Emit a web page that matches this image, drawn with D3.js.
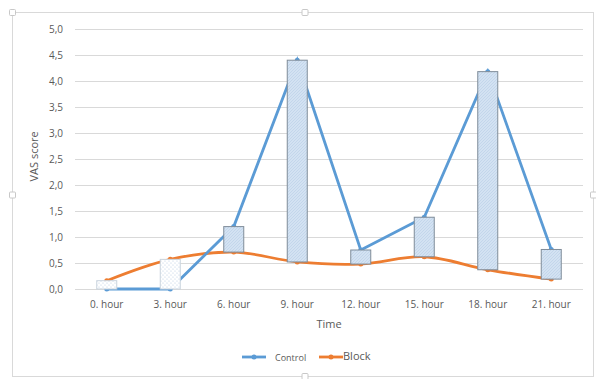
<!DOCTYPE html>
<html>
<head>
<meta charset="utf-8">
<script src="https://cdn.jsdelivr.net/npm/d3@7"></script>
<style>
    body { margin: 0; background: #fff; }
    svg text { font-family: "Open Sans", "Noto Sans", sans-serif; fill: #595959; }
</style>
</head>
<body>
<div id="chart"></div>
<script>
    var categories = ["0. hour", "3. hour", "6. hour", "9. hour", "12. hour", "15. hour", "18. hour", "21. hour"],
        control = [0.0, 0.0, 1.2, 4.4, 0.75, 1.38, 4.18, 0.76],
        block = [0.16, 0.57, 0.71, 0.52, 0.48, 0.62, 0.37, 0.19],
        yTicks = [0, 0.5, 1, 1.5, 2, 2.5, 3, 3.5, 4, 4.5, 5],
        seriesNames = ["Control", "Block"];

    var width = 596,
        height = 379,
        margin = {top: 29, right: 13, bottom: 90, left: 75},
        blue = "#5b9bd5",
        orange = "#ed7d31",
        barWidth = 20;

    var svg = d3.select("#chart").append("svg")
                .attr("width", width)
                .attr("height", height);

    var defs = svg.append("defs");

    //hatched light blue for up bars
    var up = defs.append("pattern")
                 .attr("id", "upPat")
                 .attr("patternUnits", "userSpaceOnUse")
                 .attr("width", 3)
                 .attr("height", 3);
    up.append("rect").attr("width", 3).attr("height", 3).attr("fill", "#d3e2f2");
    up.append("path").attr("d", "M0,3 L3,0").attr("stroke", "#bfd3ea").attr("stroke-width", 0.8);

    //dotted white for down bars
    var down = defs.append("pattern")
                   .attr("id", "downPat")
                   .attr("patternUnits", "userSpaceOnUse")
                   .attr("width", 4)
                   .attr("height", 4);
    down.append("rect").attr("width", 4).attr("height", 4).attr("fill", "#fff");
    down.append("circle").attr("cx", 1).attr("cy", 1).attr("r", 0.6).attr("fill", "#b8cde4");
    down.append("circle").attr("cx", 3).attr("cy", 3).attr("r", 0.6).attr("fill", "#b8cde4");

    //chart frame
    svg.append("rect")
       .attr("x", 12.5).attr("y", 12.5)
       .attr("width", 581).attr("height", 364)
       .attr("fill", "none")
       .attr("stroke", "#d9d9d9");

    var x = d3.scaleBand()
              .domain(categories)
              .range([margin.left, width - margin.right]);

    var y = d3.scaleLinear()
              .domain([0, 5])
              .range([height - margin.bottom, margin.top]);

    //gridlines
    svg.append("g")
       .selectAll("line")
       .data(yTicks)
       .enter()
       .append("line")
       .attr("x1", margin.left)
       .attr("x2", width - margin.right)
       .attr("y1", function(d) {return Math.round(y(d)) + 0.5; })
       .attr("y2", function(d) {return Math.round(y(d)) + 0.5; })
       .attr("stroke", "#d9d9d9")
       .attr("stroke-width", 1);

    var yAxis = svg.append("g")
                   .attr("transform", "translate(" + (margin.left - 9) + ",0)")
                   .call(d3.axisLeft(y).tickValues(yTicks).tickSize(0)
                           .tickFormat(function(d) {return d3.format(".1f")(d).replace(".", ","); }));
    yAxis.select(".domain").remove();
    yAxis.selectAll("text").attr("font-size", 10).style("fill", "#595959");

    var xAxis = svg.append("g")
                   .attr("transform", "translate(0," + (height - margin.bottom + 9) + ")")
                   .call(d3.axisBottom(x).tickSize(0));
    xAxis.select(".domain").remove();
    xAxis.selectAll("text").attr("font-size", 10).style("fill", "#595959");

    svg.append("text")
       .attr("transform", "translate(38," + y(2.55) + ") rotate(-90)")
       .attr("text-anchor", "middle")
       .attr("font-size", 11)
       .text("VAS score");

    svg.append("text")
       .attr("x", x("9. hour") + x.bandwidth())
       .attr("y", 328)
       .attr("text-anchor", "middle")
       .attr("font-size", 11)
       .text("Time");

    var cx = function(i) {return x(categories[i]) + x.bandwidth() / 2; };

    var blockLine = d3.line()
                      .x(function(d, i) {return cx(i); })
                      .y(function(d) {return y(d); })
                      .curve(d3.curveCatmullRom);

    var controlLine = d3.line()
                        .x(function(d, i) {return cx(i); })
                        .y(function(d) {return y(d); });

    svg.append("path")
       .attr("d", blockLine(block))
       .attr("fill", "none")
       .attr("stroke", orange)
       .attr("stroke-width", 2.8);

    svg.append("path")
       .attr("d", controlLine(control))
       .attr("fill", "none")
       .attr("stroke", blue)
       .attr("stroke-width", 2.8);

    svg.append("g").selectAll("circle")
       .data(block)
       .enter()
       .append("circle")
       .attr("cx", function(d, i) {return cx(i); })
       .attr("cy", function(d) {return y(d); })
       .attr("r", 2.5)
       .attr("fill", orange);

    svg.append("g").selectAll("circle")
       .data(control)
       .enter()
       .append("circle")
       .attr("cx", function(d, i) {return cx(i); })
       .attr("cy", function(d) {return y(d); })
       .attr("r", 2.5)
       .attr("fill", blue);

    //up/down bars between the two series
    svg.append("g").selectAll("rect")
       .data(control)
       .enter()
       .append("rect")
       .attr("x", function(d, i) {return cx(i) - barWidth / 2; })
       .attr("y", function(d, i) {return y(Math.max(d, block[i])); })
       .attr("width", barWidth)
       .attr("height", function(d, i) {return Math.abs(y(d) - y(block[i])); })
       .attr("fill", function(d, i) {return d >= block[i] ? "url(#upPat)" : "url(#downPat)"; })
       .attr("stroke", function(d, i) {return d >= block[i] ? "#7f8c99" : "#c9d3dd"; })
       .attr("stroke-width", 1);

    //legend
    var legend = svg.append("g").attr("transform", "translate(0,357)");
    [blue, orange].forEach(function(c, i) {
        var lx = i === 0 ? 242 : 319;
        legend.append("line")
              .attr("x1", lx).attr("x2", lx + 24)
              .attr("y1", 0).attr("y2", 0)
              .attr("stroke", c).attr("stroke-width", 2.8);
        legend.append("circle")
              .attr("cx", lx + 12).attr("cy", 0)
              .attr("r", 2.5).attr("fill", c);
        legend.append("text")
              .attr("x", i === 0 ? 275 : 343)
              .attr("y", i === 0 ? 3.5 : 3)
              .attr("font-size", i === 0 ? 9 : 11)
              .text(seriesNames[i]);
    });

    //selection handles of the frame
    var handles = [[12.5, 12.5], [305, 12.5], [12.5, 195], [305, 376.5], [593.5, 195]];
    svg.append("g").selectAll("rect")
       .data(handles)
       .enter()
       .append("rect")
       .attr("x", function(d) {return d[0] - 3; })
       .attr("y", function(d) {return d[1] - 3; })
       .attr("width", 6)
       .attr("height", 6)
       .attr("rx", 1)
       .attr("fill", "#fff")
       .attr("stroke", "#c8c8c8");
</script>
</body>
</html>
